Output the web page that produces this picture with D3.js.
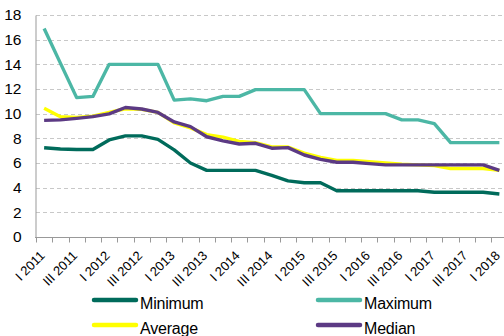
<!DOCTYPE html>
<html><head><meta charset="utf-8">
<script src="https://cdn.jsdelivr.net/npm/d3@7"></script>
<style>body{margin:0;background:#fff}svg{display:block}</style>
</head><body><svg id="c" width="504" height="336"></svg>
<script>
const categories = ["I 2011","II 2011","III 2011","IV 2011","I 2012","II 2012","III 2012","IV 2012","I 2013","II 2013","III 2013","IV 2013","I 2014","II 2014","III 2014","IV 2014","I 2015","II 2015","III 2015","IV 2015","I 2016","II 2016","III 2016","IV 2016","I 2017","II 2017","III 2017","IV 2017","I 2018"];
const minimum = [7.24,7.13,7.1,7.1,7.87,8.2,8.2,7.92,7.06,6.0,5.4,5.4,5.4,5.4,5.0,4.55,4.4,4.4,3.75,3.75,3.75,3.75,3.75,3.75,3.63,3.63,3.63,3.63,3.49];
const maximum = [16.9,14.1,11.3,11.4,14,14,14,14,11.1,11.2,11.05,11.4,11.4,11.95,11.95,11.95,11.95,10,10,10,10,10,9.5,9.5,9.2,7.65,7.65,7.65,7.65];
const average = [10.43,9.75,9.7,9.8,10.1,10.4,10.35,10.1,9.25,8.85,8.3,8.1,7.75,7.65,7.3,7.3,6.8,6.45,6.2,6.2,6.1,6.0,5.9,5.85,5.8,5.55,5.55,5.55,5.4];
const median = [9.46,9.5,9.62,9.76,9.98,10.5,10.38,10.1,9.33,8.95,8.13,7.8,7.54,7.6,7.2,7.25,6.65,6.3,6.06,6.06,5.95,5.85,5.85,5.85,5.85,5.85,5.85,5.85,5.4];
const yTicks = [0,2,4,6,8,10,12,14,16,18];
const series = [
  {name:"Minimum", values:minimum, color:"#006b5b"},
  {name:"Maximum", values:maximum, color:"#4cb7a5"},
  {name:"Average", values:average, color:"#ffff00"},
  {name:"Median", values:median, color:"#5c3a84"}
];
const drawOrder = [1,0,2,3];
const FONT = "Liberation Sans, Arial, sans-serif";

const svg = d3.select("#c");
const x = d3.scaleBand().domain(categories).range([36, 507.5]);
const y = d3.scaleLinear().domain([0,18]).range([237, 15]);

// grid
svg.append("g").selectAll("line").data(yTicks.filter(d=>d>0)).join("line")
  .attr("x1",36).attr("x2",504).attr("y1",d=>Math.round(y(d))+0.5).attr("y2",d=>Math.round(y(d))+0.5)
  .attr("stroke","#c8c8c8").attr("stroke-dasharray","4,3").attr("stroke-width",1);

// y axis
const ya = svg.append("g").attr("transform","translate(35.5,0)")
  .call(d3.axisLeft(y).tickValues(yTicks).tickSize(0).tickPadding(14));
ya.select(".domain").attr("stroke","#999");
ya.selectAll("text").attr("font-family",FONT).attr("font-size","15.5px").attr("fill","#000");

// x axis
const xa = svg.append("g").attr("transform","translate(0,237.5)");
xa.append("line").attr("x1",35).attr("x2",504).attr("stroke","#999");
xa.selectAll("line.t").data(categories).join("line").attr("class","t")
  .attr("x1",d=>Math.round(x(d))+0.5).attr("x2",d=>Math.round(x(d))+0.5).attr("y1",0).attr("y2",5).attr("stroke","#999");
xa.selectAll("text").data(categories.filter((d,i)=>i%2===0)).join("text")
  .attr("transform",d=>`translate(${x(d)+x.bandwidth()/2+1.5},19) rotate(-45)`)
  .attr("text-anchor","end")
  .attr("font-family",FONT).attr("font-size","13px").attr("fill","#000")
  .text(d=>d);

// lines
const line = d3.line().x((d,i)=>x(categories[i])+x.bandwidth()/2).y(d=>y(d));
drawOrder.forEach(k=>{
  const s = series[k];
  svg.append("path").datum(s.values).attr("d",line).attr("fill","none")
    .attr("stroke",s.color).attr("stroke-width",3.4).attr("stroke-linejoin","round");
});

// legend
const legPos = [[93,300],[317,300],[93,325],[317,325]];
series.forEach((s,i)=>{
  const [lx,ly] = legPos[i];
  svg.append("line").attr("x1",lx+1).attr("x2",lx+43).attr("y1",ly).attr("y2",ly)
    .attr("stroke",s.color).attr("stroke-width",4.5).attr("stroke-linecap","round");
  svg.append("text").attr("x",lx+47).attr("y",ly+8.5)
    .attr("font-family",FONT).attr("font-size","16px").attr("letter-spacing","-0.2px").attr("fill","#000")
    .text(s.name);
});
</script></body></html>
